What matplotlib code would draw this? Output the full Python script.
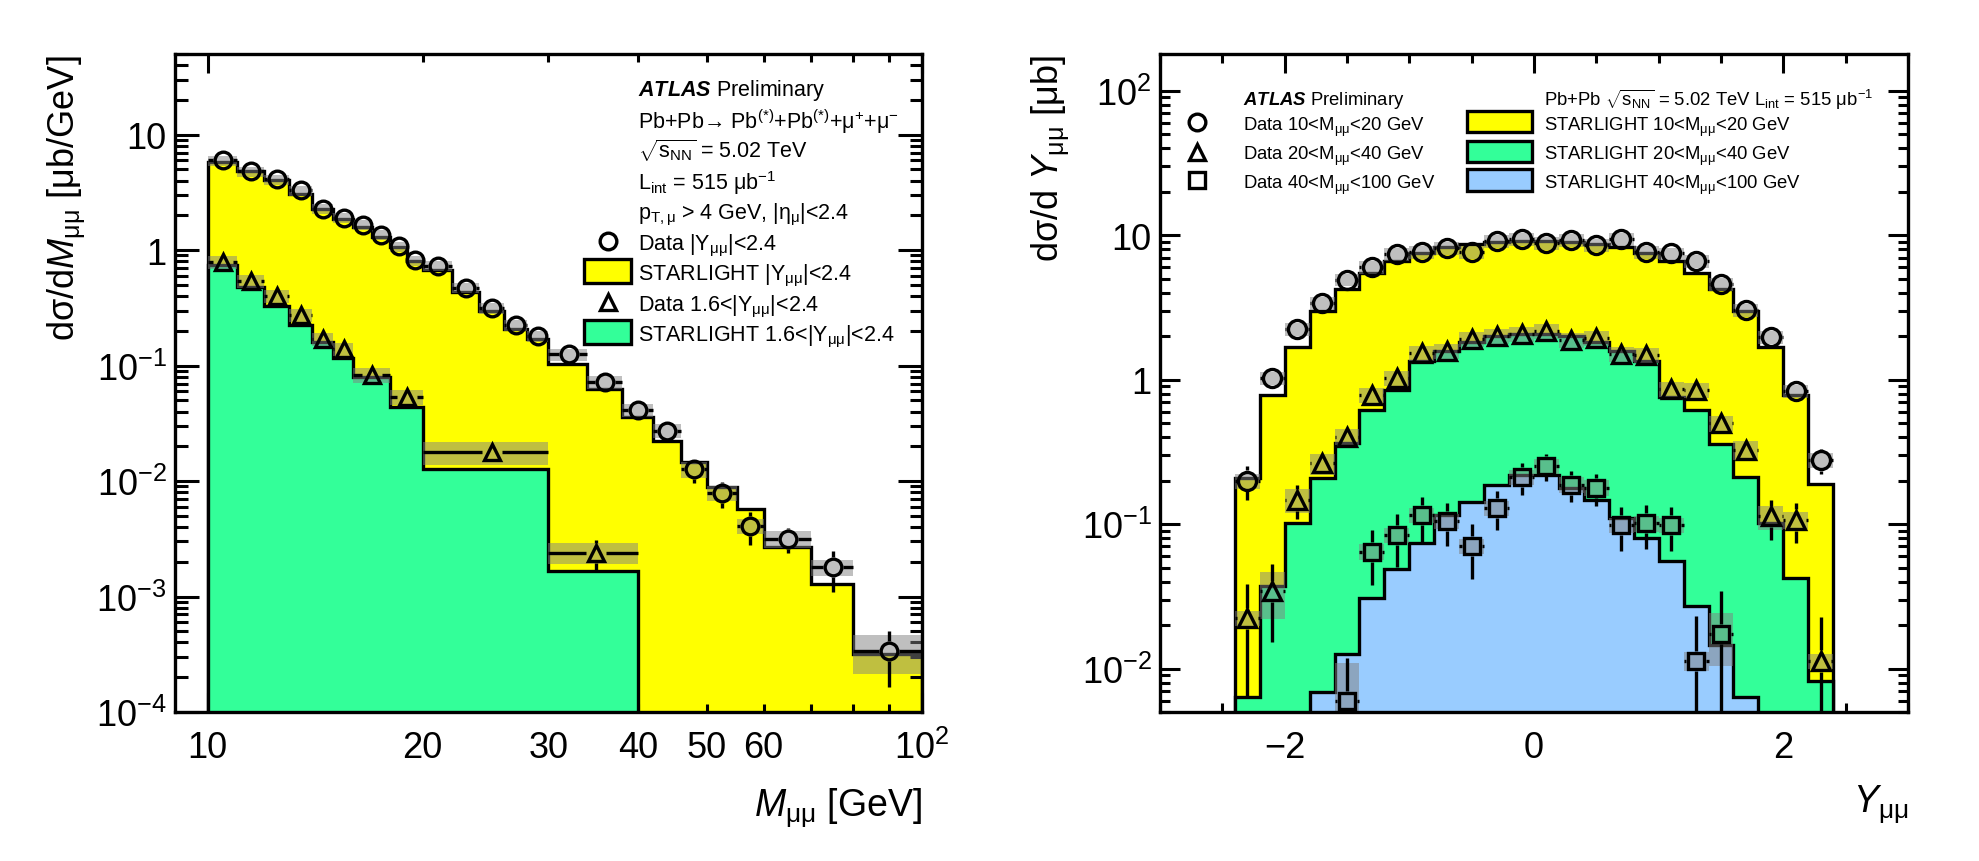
import numpy as np
import matplotlib
matplotlib.use('Agg')
import matplotlib.pyplot as plt
from matplotlib.patches import Rectangle
from matplotlib.collections import LineCollection
from matplotlib.ticker import FixedLocator, FixedFormatter, LogLocator, NullFormatter, MultipleLocator

plt.rcParams['font.family'] = ['Liberation Sans', 'DejaVu Sans']
plt.rcParams['mathtext.fontset'] = 'custom'
plt.rcParams['mathtext.rm'] = 'Liberation Sans'
plt.rcParams['mathtext.it'] = 'Liberation Sans:italic'
plt.rcParams['mathtext.bf'] = 'Liberation Sans:bold'
plt.rcParams['mathtext.bfit'] = 'Liberation Sans:italic:bold'

# ---- left panel: dsigma/dM ----
m_edges = [10, 11, 12, 13, 14, 15, 16, 17, 18, 19, 20, 22, 24, 26, 28, 30,
           34, 38, 42, 46, 50, 55, 60, 70, 80, 100]
m_data = [6.0, 4.81, 4.10, 3.29, 2.29, 1.91, 1.66, 1.36, 1.08, 0.814, 0.728, 0.469,
          0.317, 0.223, 0.180, 0.125, 0.072, 0.0414, 0.0274, 0.0126, 0.00785,
          0.00411, 0.00316, 0.00179, 0.000336]
m_stat = [0.05, 0.04, 0.035, 0.03, 0.02, 0.018, 0.015, 0.013, 0.011, 0.009, 0.008,
          0.006, 0.005, 0.004, 0.0035, 0.003, 0.002, 0.0015, 0.0025, 0.0029, 0.002,
          0.0013, 0.0008, 0.0007, 0.00017]
m_syst = [0.10, 0.10, 0.10, 0.10, 0.10, 0.10, 0.10, 0.10, 0.10, 0.10, 0.10, 0.10,
          0.11, 0.11, 0.11, 0.12, 0.13, 0.13, 0.14, 0.16, 0.15, 0.15, 0.16, 0.16, 0.37]
m_mc = [5.80, 4.81, 4.02, 3.08, 2.29, 1.87, 1.58, 1.30, 1.06, 0.81, 0.667, 0.434,
        0.30, 0.208, 0.171, 0.104, 0.063, 0.0358, 0.0224, 0.0146, 0.00885,
        0.00574, 0.00267, 0.00129, 0.000318]

fwd_edges = [10, 11, 12, 13, 14, 15, 16, 18, 20, 30, 40]
fwd_data = [0.789, 0.536, 0.397, 0.272, 0.171, 0.140, 0.083, 0.054, 0.0177, 0.0024]
fwd_stat = [0.02, 0.015, 0.012, 0.01, 0.007, 0.006, 0.004, 0.003, 0.0012, 0.0007]
fwd_syst = [0.13, 0.13, 0.13, 0.13, 0.13, 0.13, 0.14, 0.15, 0.22, 0.20]
fwd_mc = [0.74, 0.479, 0.33, 0.223, 0.16, 0.116, 0.079, 0.0437, 0.0128, 0.00167]

# ---- right panel: dsigma/dY ----
y_edges = [-2.4, -2.2, -2.0, -1.8, -1.6, -1.4, -1.2, -1.0, -0.8, -0.6, -0.4, -0.2, 0.0,
           0.2, 0.4, 0.6, 0.8, 1.0, 1.2, 1.4, 1.6, 1.8, 2.0, 2.2, 2.4]
y_data1 = [0.20, 1.02, 2.24, 3.38, 4.92, 6.0, 7.41, 7.61, 8.16, 7.61, 9.06, 9.39,
           8.84, 9.23, 8.53, 9.39, 7.61, 7.48, 6.62, 4.59, 3.04, 1.97, 0.83, 0.277]
y_stat1 = [0.053, 0.10, 0.12, 0.15, 0.18, 0.2, 0.2, 0.2, 0.2, 0.2, 0.2, 0.2,
           0.2, 0.2, 0.2, 0.2, 0.2, 0.2, 0.2, 0.18, 0.15, 0.12, 0.10, 0.055]
y_syst1 = [0.12, 0.10, 0.10, 0.10, 0.10, 0.10, 0.10, 0.10, 0.10, 0.10, 0.10, 0.10,
           0.10, 0.10, 0.10, 0.10, 0.10, 0.10, 0.10, 0.10, 0.10, 0.10, 0.10, 0.12]
y_mc1 = [0.207, 0.78, 1.69, 2.99, 4.24, 5.5, 6.68, 7.48, 8.3, 8.67, 8.98, 9.06,
         9.06, 8.98, 8.67, 8.3, 7.48, 6.68, 5.5, 4.24, 2.99, 1.69, 0.787, 0.191]

y_data2 = [0.0223, 0.0342, 0.147, 0.263, 0.403, 0.78, 1.03, 1.52, 1.58, 1.90, 2.0, 2.07,
           2.18, 1.87, 1.95, 1.50, 1.49, 0.867, 0.845, 0.498, 0.325, 0.113, 0.107, 0.0113]
y_stat2 = [0.016, 0.019, 0.039, 0.035, 0.04, 0.06, 0.07, 0.08, 0.08, 0.09, 0.09, 0.09,
           0.09, 0.09, 0.09, 0.08, 0.08, 0.06, 0.06, 0.045, 0.04, 0.035, 0.033, 0.0115]
y_syst2 = [0.12, 0.36, 0.19, 0.17, 0.13, 0.12, 0.12, 0.12, 0.12, 0.12, 0.12, 0.12,
           0.12, 0.12, 0.12, 0.12, 0.12, 0.12, 0.12, 0.13, 0.15, 0.19, 0.14, 0.12]
y_mc2 = [0.00632, 0.037, 0.101, 0.210, 0.367, 0.615, 0.85, 1.34, 1.59, 1.82, 2.02, 2.07,
         2.07, 2.02, 1.82, 1.59, 1.34, 0.76, 0.615, 0.361, 0.213, 0.101, 0.0422, 0.00817]

y3_edges = [-1.6, -1.4, -1.2, -1.0, -0.8, -0.6, -0.4, -0.2, 0.0, 0.2, 0.4, 0.6, 0.8,
            1.0, 1.2, 1.4, 1.6]
y_data3 = [0.00593, 0.0646, 0.0841, 0.115, 0.105, 0.0706, 0.130, 0.213, 0.253, 0.188,
           0.179, 0.0986, 0.101, 0.0986, 0.0113, 0.0173]
y_stat3 = [0.0059, 0.027, 0.034, 0.04, 0.034, 0.029, 0.039, 0.053, 0.055, 0.045,
           0.045, 0.033, 0.034, 0.033, 0.0117, 0.0173]
y_syst3 = [0.85, 0.12, 0.12, 0.12, 0.12, 0.12, 0.12, 0.12, 0.12, 0.12, 0.12, 0.12,
           0.12, 0.12, 0.15, 0.40]
y3mc_edges = [-1.8, -1.6, -1.4, -1.2, -1.0, -0.8, -0.6, -0.4, -0.2, 0.0, 0.2, 0.4, 0.6,
              0.8, 1.0, 1.2, 1.4, 1.6, 1.8]
y_mc3 = [0.00684, 0.0126, 0.0307, 0.049, 0.0736, 0.116, 0.143, 0.186, 0.218,
         0.218, 0.177, 0.147, 0.110, 0.0807, 0.0556, 0.0269, 0.0146, 0.00632]

YELLOW = '#ffff00'
GREEN = '#33ff99'
BLUE = '#99ccff'
LW = 2.4

fig = plt.figure(figsize=(19.79, 8.62), dpi=100)
ax1 = fig.add_axes([175 / 1979, 149 / 862, 747 / 1979, 658 / 862])
ax2 = fig.add_axes([1160 / 1979, 149 / 862, 748 / 1979, 658 / 862])


def draw_mc(ax, edges, vals, color, z):
    ax.stairs(vals, edges, baseline=1e-7, fill=True, color=color, lw=0, zorder=z)
    ax.stairs(vals, edges, baseline=1e-7, color='black', lw=LW, zorder=z + 0.5)


def draw_data(ax, edges, vals, stat, syst, marker, ms):
    e = np.array(edges, float)
    v = np.array(vals, float)
    st = np.array(stat, float)
    sy = np.array(syst, float)
    lo, hi = e[:-1], e[1:]
    xc = 0.5 * (lo + hi)
    # systematic boxes
    ax.bar(lo, 2 * sy * v, width=hi - lo, bottom=v * (1 - sy), align='edge',
           color='#808080', alpha=0.5, lw=0, zorder=6)
    # error bars with a gap around the marker
    ybot = ax.get_ylim()[0] * 0.1
    y_dn = np.where(v - st > 0, v - st, ybot)
    y_up = v + st
    r = (ms + LW) * fig.dpi / 72 / 2
    to_px = ax.transData.transform
    inv = ax.transData.inverted()
    segs = []
    for i in range(len(v)):
        cx, cy = to_px((xc[i], v[i]))
        xl = to_px((lo[i], v[i]))[0]
        xr = to_px((hi[i], v[i]))[0]
        yb = to_px((xc[i], y_dn[i]))[1]
        yt = to_px((xc[i], y_up[i]))[1]
        for a, b in [((xl, cy), (cx - r, cy)), ((cx + r, cy), (xr, cy)),
                     ((cx, yb), (cx, cy - r)), ((cx, cy + r), (cx, yt))]:
            if (b[0] - a[0]) + (b[1] - a[1]) > 0:
                segs.append(inv.transform([a, b]))
    ax.add_collection(LineCollection(segs, colors='black', linewidths=LW, zorder=7),
                      autolim=False)
    ax.plot(xc, v, ls='none', marker=marker, ms=ms, mfc='none', mec='black',
            mew=LW, zorder=8)


def style_axes(ax):
    for s in ax.spines.values():
        s.set_linewidth(LW)
        s.set_zorder(10)
    ax.tick_params(which='both', direction='in', top=True, right=True, width=2.2,
                   labelsize=26)
    ax.tick_params(axis='x', which='both', pad=13)
    ax.tick_params(axis='y', which='both', pad=6)


# ---------------- left ----------------
ax1.set_xscale('log')
ax1.set_yscale('log')
ax1.set_xlim(9, 100)
ax1.set_ylim(1e-4, 50)
style_axes(ax1)
ax1.tick_params(axis='x', which='major', length=14)
ax1.tick_params(axis='x', which='minor', length=6)
ax1.tick_params(axis='y', which='major', length=17)
ax1.tick_params(axis='y', which='minor', length=9)
ax1.xaxis.set_major_locator(FixedLocator([10, 100]))
ax1.xaxis.set_major_formatter(FixedFormatter(['10', r'$10^{2}$']))
ax1.xaxis.set_minor_locator(FixedLocator([20, 30, 40, 50, 60, 70, 80, 90]))
ax1.xaxis.set_minor_formatter(FixedFormatter(['20', '30', '40', '50', '60', '', '', '']))
ax1.yaxis.set_major_locator(FixedLocator([1e-4, 1e-3, 1e-2, 1e-1, 1, 10]))
ax1.yaxis.set_major_formatter(FixedFormatter([r'$10^{-4}$', r'$10^{-3}$', r'$10^{-2}$',
                                              r'$10^{-1}$', '1', '10']))
ax1.yaxis.set_minor_locator(LogLocator(base=10, subs=range(2, 10), numticks=30))
ax1.yaxis.set_minor_formatter(NullFormatter())

draw_mc(ax1, m_edges, m_mc, YELLOW, 1)
draw_mc(ax1, fwd_edges, fwd_mc, GREEN, 2)
draw_data(ax1, m_edges, m_data, m_stat, m_syst, 'o', 12)
draw_data(ax1, fwd_edges, fwd_data, fwd_stat, fwd_syst, '^', 12)

ax1.set_xlabel(r'$M_{\mathrm{μμ}}$ [GeV]', fontsize=27, ha='right', va='baseline')
ax1.xaxis.set_label_coords(1.0, -0.157)
ax1.set_ylabel(r'dσ/d$M_{\mathrm{μμ}}$ [μb/GeV]', fontsize=26, ha='right', va='center')
ax1.yaxis.set_label_coords(-0.145, 1.0)

tx = 0.620
fs1 = 15.5
kw = dict(transform=ax1.transAxes, fontsize=fs1, va='center_baseline', ha='left', zorder=12)
ax1.text(tx, 0.951, r'$\mathbfit{ATLAS}$ Preliminary', **kw)
ax1.text(tx, 0.904, r'Pb+Pb→ Pb$^{(*)}$+Pb$^{(*)}$+$\mathrm{μ}^{+}$+$\mathrm{μ}^{-}$', **kw)
ax1.text(tx, 0.859, r'$\sqrt{\mathrm{s}_{\mathrm{NN}}}$ = 5.02 TeV', **kw)
ax1.text(tx, 0.810, r'L$_{\mathrm{int}}$ = 515 μb$^{-1}$', **kw)
ax1.text(tx, 0.764, r'p$_{\mathrm{T,μ}}$ > 4 GeV, |η$_{\mathrm{μ}}$|<2.4', **kw)
leg_rows = [0.716, 0.670, 0.623, 0.578]
leg_text = [r'Data |Y$_{\mathrm{μμ}}$|<2.4', r'STARLIGHT |Y$_{\mathrm{μμ}}$|<2.4',
            r'Data 1.6<|Y$_{\mathrm{μμ}}$|<2.4', r'STARLIGHT 1.6<|Y$_{\mathrm{μμ}}$|<2.4']
for yy, t in zip(leg_rows, leg_text):
    ax1.text(tx, yy, t, **kw)
ax1.plot([0.580], [leg_rows[0]], marker='o', ms=12, mfc='none', mec='black', mew=LW,
         transform=ax1.transAxes, clip_on=False, zorder=12)
ax1.plot([0.580], [leg_rows[2]], marker='^', ms=12, mfc='none', mec='black', mew=LW,
         transform=ax1.transAxes, clip_on=False, zorder=12)
for yy, c in [(leg_rows[1], YELLOW), (leg_rows[3], GREEN)]:
    ax1.add_patch(Rectangle((0.5475, yy - 0.0183), 0.063, 0.0365, transform=ax1.transAxes,
                            facecolor=c, edgecolor='black', lw=LW, zorder=12))

# ---------------- right ----------------
ax2.set_yscale('log')
ax2.set_xlim(-3, 3)
ax2.set_ylim(0.005, 180)
style_axes(ax2)
ax2.tick_params(axis='x', which='major', length=14)
ax2.tick_params(axis='x', which='minor', length=6.5)
ax2.tick_params(axis='y', which='major', length=14.5)
ax2.tick_params(axis='y', which='minor', length=7.5)
ax2.xaxis.set_major_locator(MultipleLocator(2))
ax2.xaxis.set_minor_locator(MultipleLocator(0.5))
ax2.yaxis.set_major_locator(FixedLocator([1e-2, 1e-1, 1, 10, 100]))
ax2.yaxis.set_major_formatter(FixedFormatter([r'$10^{-2}$', r'$10^{-1}$', '1', '10',
                                              r'$10^{2}$']))
ax2.yaxis.set_minor_locator(LogLocator(base=10, subs=range(2, 10), numticks=30))
ax2.yaxis.set_minor_formatter(NullFormatter())

draw_mc(ax2, y_edges, y_mc1, YELLOW, 1)
draw_mc(ax2, y_edges, y_mc2, GREEN, 2)
draw_mc(ax2, y3mc_edges, y_mc3, BLUE, 3)
draw_data(ax2, y_edges, y_data1, y_stat1, y_syst1, 'o', 13)
draw_data(ax2, y_edges, y_data2, y_stat2, y_syst2, '^', 13)
draw_data(ax2, y3_edges, y_data3, y_stat3, y_syst3, 's', 12)

ax2.set_xlabel(r'$Y_{\mathrm{μμ}}$', fontsize=27, ha='right', va='baseline')
ax2.xaxis.set_label_coords(1.0, -0.152)
ax2.set_ylabel(r'dσ/d $Y_{\mathrm{μμ}}$ [μb]', fontsize=26, ha='right', va='center')
ax2.yaxis.set_label_coords(-0.146, 1.0)

fs2 = 13.3
kw2 = dict(transform=ax2.transAxes, fontsize=fs2, va='center_baseline', ha='left', zorder=12)
ax2.text(0.111, 0.936, r'$\mathbfit{ATLAS}$ Preliminary', **kw2)
ax2.text(0.5134, 0.936, r'Pb+Pb $\sqrt{\mathrm{s}_{\mathrm{NN}}}$ = 5.02 TeV L$_{\mathrm{int}}$ = 515 μb$^{-1}$', **kw2)
rows2 = [0.8967, 0.8518, 0.8085]
data_lbl = [r'Data 10<M$_{\mathrm{μμ}}$<20 GeV', r'Data 20<M$_{\mathrm{μμ}}$<40 GeV',
            r'Data 40<M$_{\mathrm{μμ}}$<100 GeV']
mc_lbl = [r'STARLIGHT 10<M$_{\mathrm{μμ}}$<20 GeV', r'STARLIGHT 20<M$_{\mathrm{μμ}}$<40 GeV',
          r'STARLIGHT 40<M$_{\mathrm{μμ}}$<100 GeV']
for yy, mk, t1, t2, c in zip(rows2, ['o', '^', 's'], data_lbl, mc_lbl, [YELLOW, GREEN, BLUE]):
    ax2.plot([0.0495], [yy], marker=mk, ms=12, mfc='none', mec='black', mew=LW,
             transform=ax2.transAxes, clip_on=False, zorder=12)
    ax2.text(0.111, yy, t1, **kw2)
    ax2.add_patch(Rectangle((0.4104, yy - 0.016), 0.0869, 0.032, transform=ax2.transAxes,
                            facecolor=c, edgecolor='black', lw=LW, zorder=12))
    ax2.text(0.5134, yy, t2, **kw2)

fig.savefig('out.png', dpi=100)
